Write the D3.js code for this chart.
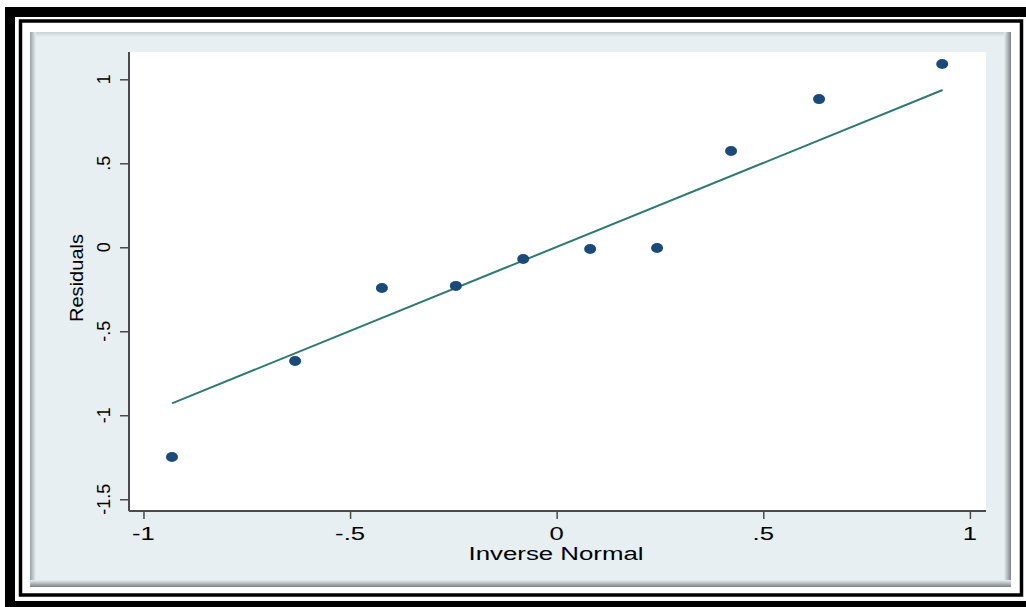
<!DOCTYPE html>
<html>
<head>
<meta charset="utf-8">
<script src="https://d3js.org/d3.v7.min.js"></script>
<style>
  body { margin: 0; background: #fff; }
  text { font-family: "Liberation Sans", Arial, sans-serif; fill: #000; }
</style>
</head>
<body>
<script>
// values
const invNormal = [-0.931, -0.633, -0.423, -0.244, -0.081, 0.081, 0.243, 0.422, 0.635, 0.933];
const residuals = [-1.248, -0.677, -0.242, -0.230, -0.070, -0.010, -0.004, 0.573, 0.882, 1.091];
const fitX = [-0.931, 0.934];
const fitY = [-0.929, 0.936];
const xTicks = [-1, -0.5, 0, 0.5, 1];
const xTickLabels = ["-1", "-.5", "0", ".5", "1"];
const yTicks = [-1.5, -1, -0.5, 0, 0.5, 1];
const yTickLabels = ["-1.5", "-1", "-.5", "0", ".5", "1"];

const width = 1026, height = 607;
const svg = d3.select("body").append("svg")
    .attr("width", width)
    .attr("height", height);

const defs = svg.append("defs");
function grad(id, x2, y2, c1, c2) {
  const g = defs.append("linearGradient").attr("id", id)
      .attr("x1", 0).attr("y1", 0).attr("x2", x2).attr("y2", y2);
  g.append("stop").attr("offset", "0%").attr("stop-color", c1);
  g.append("stop").attr("offset", "100%").attr("stop-color", c2);
}
const panelFill = "#e8eff2";
grad("shR", 1, 0, panelFill, "#7d8184");
grad("shB", 0, 1, panelFill, "#7d8184");
grad("shL", 1, 0, "#9aa2a5", panelFill);
grad("shT", 0, 1, "#c9d1d4", panelFill);

// frames
svg.append("rect").attr("x", 5).attr("y", 7).attr("width", 1030).attr("height", 10).attr("fill", "#000");
svg.append("rect").attr("x", 5).attr("y", 7).attr("width", 10).attr("height", 600).attr("fill", "#000");
svg.append("rect").attr("x", 5).attr("y", 601).attr("width", 1030).attr("height", 6).attr("fill", "#000");
svg.append("rect").attr("x", 20.5).attr("y", 21).attr("width", 1001).attr("height", 574)
    .attr("fill", "none").attr("stroke", "#000").attr("stroke-width", 3.5);

// panel
svg.append("rect").attr("x", 30).attr("y", 32).attr("width", 981).attr("height", 555).attr("fill", panelFill);
svg.append("rect").attr("x", 30).attr("y", 32).attr("width", 981).attr("height", 5).attr("fill", "url(#shT)");
svg.append("rect").attr("x", 30).attr("y", 32).attr("width", 6).attr("height", 555).attr("fill", "url(#shL)");
svg.append("rect").attr("x", 1004).attr("y", 32).attr("width", 7).attr("height", 555).attr("fill", "url(#shR)");
svg.append("rect").attr("x", 30).attr("y", 580).attr("width", 981).attr("height", 7).attr("fill", "url(#shB)");

const x = d3.scaleLinear().domain([-1.035, 1.039]).range([129, 986]);
const y = d3.scaleLinear().domain([-1.57, 1.1625]).range([511, 52]);

// plot region
svg.append("rect")
    .attr("x", x.range()[0]).attr("y", y.range()[1])
    .attr("width", x.range()[1] - x.range()[0])
    .attr("height", y.range()[0] - y.range()[1])
    .attr("fill", "#fff");

// axes
const axisColor = "#4a4a4a";
const xAxis = svg.append("g").attr("transform", `translate(0,${y.range()[0]})`)
    .call(d3.axisBottom(x).tickValues(xTicks).tickSize(8).tickFormat(""));
const yAxis = svg.append("g").attr("transform", `translate(${x.range()[0]},0)`)
    .call(d3.axisLeft(y).tickValues(yTicks).tickSize(9).tickFormat(""));
[xAxis, yAxis].forEach(a => {
  a.select(".domain").attr("stroke", axisColor).attr("stroke-width", 2);
  a.selectAll(".tick line").attr("stroke", axisColor).attr("stroke-width", 1.5);
});
xAxis.select(".domain").attr("d", `M${x.range()[0]},0H${x.range()[1]}`);
yAxis.select(".domain").attr("d", `M0,${y.range()[0]}V${y.range()[1]}`);

// tick labels
svg.append("g").selectAll("text")
  .data(xTicks)
  .join("text")
    .attr("transform", d => `translate(${x(d)},540) scale(1.35,1)`)
    .attr("text-anchor", "middle")
    .attr("font-size", 19)
    .text((d, i) => xTickLabels[i]);

svg.append("g").selectAll("text")
  .data(yTicks)
  .join("text")
    .attr("transform", d => `translate(110,${y(d)}) rotate(-90)`)
    .attr("text-anchor", "middle")
    .attr("font-size", 18)
    .text((d, i) => yTickLabels[i]);

// axis titles
svg.append("text")
    .attr("transform", "translate(556,560) scale(1.36,1)")
    .attr("text-anchor", "middle")
    .attr("font-size", 19)
    .text("Inverse Normal");

svg.append("text")
    .attr("transform", "translate(83,278) rotate(-90)")
    .attr("text-anchor", "middle")
    .attr("font-size", 18)
    .attr("textLength", 88)
    .attr("lengthAdjust", "spacingAndGlyphs")
    .text("Residuals");

// fitted line
const line = d3.line().x(d => x(d[0])).y(d => y(d[1]));
svg.append("path")
    .datum(d3.zip(fitX, fitY))
    .attr("d", line)
    .attr("fill", "none")
    .attr("stroke", "#2f7a6c")
    .attr("stroke-width", 2);

// points
svg.append("g").selectAll("ellipse")
  .data(d3.zip(invNormal, residuals))
  .join("ellipse")
    .attr("cx", d => x(d[0]))
    .attr("cy", d => y(d[1]))
    .attr("rx", 6)
    .attr("ry", 5)
    .attr("fill", "#1b4a78");
</script>
</body>
</html>
